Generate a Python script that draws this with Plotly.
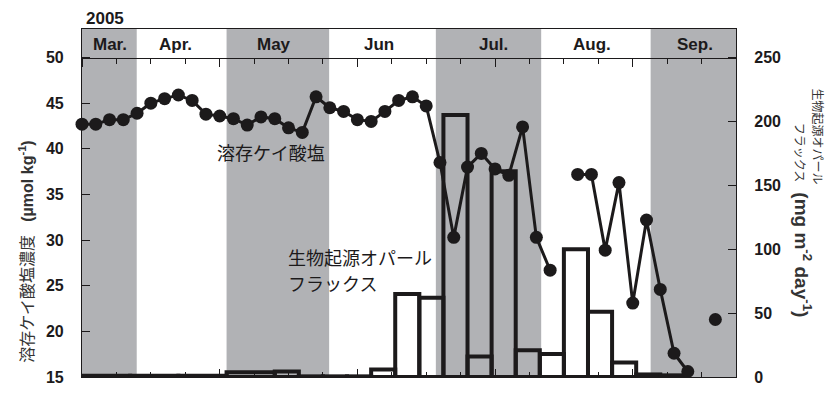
import plotly.graph_objects as go

# ---------------- data ----------------
# sampling days (days since the start of the axis, ~16 Mar 2005)
sample_day = [0, 4, 8, 12, 16, 20, 24, 28, 32, 36, 40, 44, 48, 52, 56, 60, 64, 68,
              72, 76, 80, 84, 88, 92, 96, 100, 104, 108, 112, 116, 120, 124, 128,
              132, 136, 140, 144, 148, 152, 156, 160, 164, 168, 172, 176, 180, 184]
# dissolved silicate (umol/kg); None = no sample
silicate = [42.7, 42.7, 43.2, 43.2, 43.9, 45.0, 45.5, 45.9, 45.3, 43.8, 43.6, 43.3,
            42.6, 43.5, 43.3, 42.3, 41.8, 45.7, 44.5, 44.1, 43.2, 43.0, 44.1, 45.3,
            45.7, 44.7, 38.5, 30.3, 38.0, 39.5, 37.8, 37.1, 42.4, 30.3, 26.7, None,
            37.2, 37.2, 28.9, 36.3, 23.1, 32.2, 24.6, 17.6, 15.6, None, 21.3]

# sediment-trap collection intervals (days) and biogenic opal flux (mg m-2 day-1)
flux_start = [0, 14, 28, 42, 56, 63, 70, 77, 84, 91, 98, 105, 112, 119, 126, 133,
              140, 147, 154, 161, 168]
flux_end = [14, 28, 42, 56, 63, 70, 77, 84, 91, 98, 105, 112, 119, 126, 133, 140,
            147, 154, 161, 168, 175]
flux = [1.0, 1.0, 1.0, 3.8, 4.3, 0.5, 0.5, 0.5, 5.9, 65, 62, 205, 16, 161, 21, 18,
        100, 51, 11.4, 2.0, 1.3]

# months
month_names = ["Mar.", "Apr.", "May", "Jun", "Jul.", "Aug.", "Sep."]
month_start = [0, 15.9, 42.0, 71.8, 102.8, 133.4, 165.2]
month_end = [15.9, 42.0, 71.8, 102.8, 133.4, 165.2, 190]
month_shaded = [True, False, True, False, True, False, True]
month_label_x = [8.0, 27.3, 55.8, 86.2, 119.6, 148.1, 178.0]

si_ticks = [15, 20, 25, 30, 35, 40, 45, 50]
flux_ticks = [0, 50, 100, 150, 200, 250]

# ---------------- layout constants ----------------
X_RANGE = [0, 190]
SI_RANGE = [15, 53.13]
FLUX_RANGE = [0, 272.35]
INK = "#1c1a1b"
GRAY = "#b1b2b5"
LAT = "Liberation Sans, Arial, Noto Sans CJK JP"
JP = "Noto Sans CJK JP"

header_pos = (50 - SI_RANGE[0]) / (SI_RANGE[1] - SI_RANGE[0])

fig = go.Figure()

bar_x = [(s + e) / 2 for s, e in zip(flux_start, flux_end)]
bar_w = [e - s for s, e in zip(flux_start, flux_end)]
fig.add_trace(go.Bar(
    x=bar_x, y=flux, width=bar_w, base=0,
    marker=dict(color="rgba(0,0,0,0)", line=dict(color=INK, width=4)),
    xaxis="x", yaxis="y", cliponaxis=False, hoverinfo="skip",
))

fig.add_trace(go.Scatter(
    x=sample_day, y=silicate, mode="lines+markers",
    line=dict(color=INK, width=3), marker=dict(color=INK, size=13),
    connectgaps=False, xaxis="x", yaxis="y2", cliponaxis=False,
))

# dummy trace to realise the header tick axis
fig.add_trace(go.Scatter(x=[None], y=[None], xaxis="x2", yaxis="y2",
                         showlegend=False, hoverinfo="skip"))

shapes = []
for s, e, sh in zip(month_start, month_end, month_shaded):
    if sh:
        shapes.append(dict(type="rect", xref="x", yref="paper", x0=s, x1=e, y0=0, y1=1,
                           fillcolor=GRAY, line=dict(width=0), layer="below"))

annotations = [
    dict(text="<b>2005</b>", xref="paper", yref="paper", x=0.003, y=1.031,
         xanchor="left", yanchor="middle", showarrow=False,
         font=dict(family=LAT, size=17, color=INK)),
    dict(text="溶存ケイ酸塩", xref="x", yref="y2", x=54.9, y=39.67,
         xanchor="center", yanchor="middle", showarrow=False,
         font=dict(family=JP, size=18, color=INK)),
    dict(text="生物起源オパール", xref="x", yref="y2", x=59.4, y=28.14,
         xanchor="left", yanchor="middle", showarrow=False,
         font=dict(family=JP, size=18, color=INK)),
    dict(text="フラックス", xref="x", yref="y2", x=59.4, y=25.26,
         xanchor="left", yanchor="middle", showarrow=False,
         font=dict(family=JP, size=18, color=INK)),
    dict(text="溶存ケイ酸塩濃度   <span style='font-size:16px'><b>(µmol kg<sup>-1</sup>)</b></span>",
         xref="paper", yref="paper", x=-0.0856, y=0.36, textangle=-90,
         xanchor="center", yanchor="middle", showarrow=False,
         font=dict(family=LAT, size=16, color="#333")),
    dict(text="生物起源オパール", xref="paper", yref="paper", x=1.126, y=0.69,
         textangle=90, xanchor="center", yanchor="middle", showarrow=False,
         font=dict(family=JP, size=12, color="#333")),
    dict(text="フラックス   <span style='font-size:19px'><b>(mg m<sup>-2</sup> day<sup>-1</sup>)</b></span>",
         xref="paper", yref="paper", x=1.102, y=0.45, textangle=90,
         xanchor="center", yanchor="middle", showarrow=False,
         font=dict(family=LAT, size=12, color="#333")),
]
for name, lx in zip(month_names, month_label_x):
    annotations.append(dict(text=f"<b>{name}</b>", xref="x", yref="paper", x=lx, y=0.9566,
                            xanchor="center", yanchor="middle", showarrow=False,
                            font=dict(family=LAT, size=17, color=INK)))

axis_common = dict(showgrid=False, zeroline=False, showline=True, linecolor=INK, linewidth=1.2)

fig.update_layout(
    width=828, height=396,
    margin=dict(l=82, r=92, t=29, b=10),
    paper_bgcolor="white", plot_bgcolor="white",
    showlegend=False,
    shapes=shapes, annotations=annotations,
    xaxis=dict(range=X_RANGE, ticks="inside", tick0=0, dtick=40, ticklen=8,
               tickcolor=INK, mirror=True, showticklabels=False,
               minor=dict(ticks="inside", dtick=10, tick0=0, ticklen=5, tickcolor=INK),
               **axis_common),
    xaxis2=dict(range=X_RANGE, overlaying="x", anchor="free", position=header_pos,
                ticks="outside", tick0=0, dtick=40, ticklen=8, tickcolor=INK,
                showticklabels=False,
                minor=dict(ticks="outside", dtick=10, tick0=0, ticklen=5, tickcolor=INK),
                **axis_common),
    yaxis=dict(range=FLUX_RANGE, side="right", tickvals=flux_ticks, ticks="inside",
               ticklen=8, tickcolor=INK, ticklabelstandoff=14,
               tickfont=dict(family=LAT, size=16, color=INK, weight="bold"),
               **axis_common),
    yaxis2=dict(range=SI_RANGE, side="left", overlaying="y", tickvals=si_ticks,
                ticks="inside", ticklen=8, tickcolor=INK, ticklabelstandoff=14,
                tickfont=dict(family=LAT, size=16, color=INK, weight="bold"),
                **axis_common),
)

fig.write_html("out.html")
